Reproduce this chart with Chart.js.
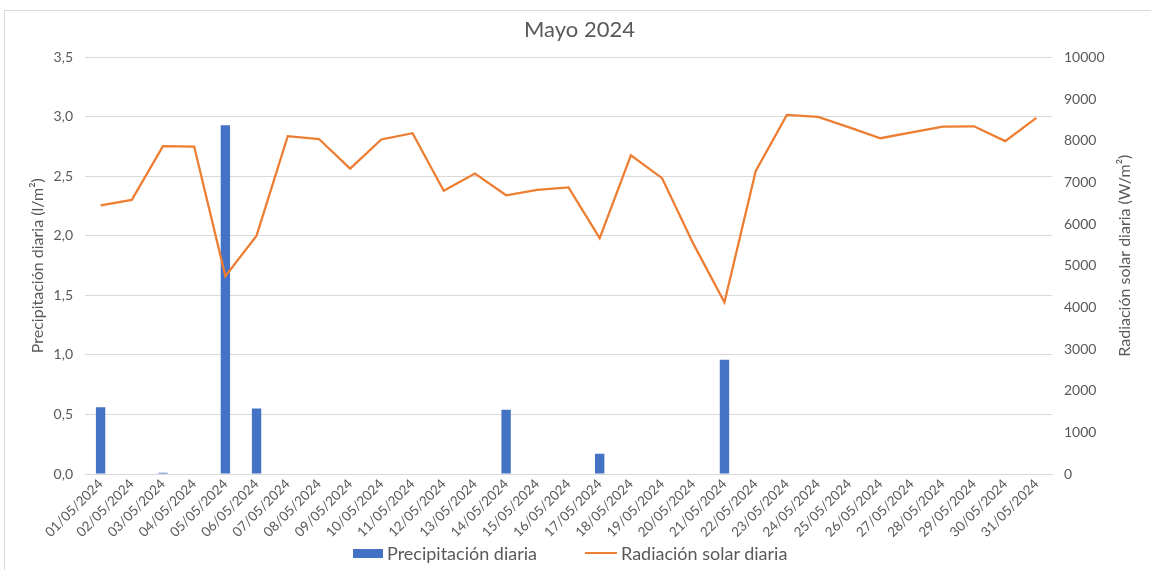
<!DOCTYPE html>
<html>
<head>
<meta charset="utf-8">
<script src="https://cdn.jsdelivr.net/npm/chart.js@4/dist/chart.umd.min.js"></script>
<style>
  html, body { margin: 0; padding: 0; background: #fff; }
  #wrap { position: relative; width: 1151px; height: 570px; overflow: hidden; font-family: Lato, "Open Sans", sans-serif; }
  #marco { position: absolute; left: 4px; top: 10px; width: 1200px; height: 600px; border: 1px solid #d9d9d9; box-sizing: border-box; }
  canvas { position: absolute; left: 0; top: 0; }
  #leyenda { position: absolute; left: 353px; top: 542px; display: flex; align-items: center; color: #595959; font-size: 18px; line-height: 22px; }
  .item { display: flex; align-items: center; }
  .item + .item { margin-left: 48px; }
  .caja { width: 30px; height: 9px; background: #4472c4; margin-right: 4px; }
  .linea { width: 32px; height: 2px; background: #ed7d31; margin-right: 4px; }
</style>
</head>
<body>
<div id="wrap">
  <div id="marco"></div>
  <canvas id="grafica" width="1151" height="570"></canvas>
  <div id="leyenda">
    <div class="item"><span class="caja"></span><span>Precipitación diaria</span></div>
    <div class="item"><span class="linea"></span><span>Radiación solar diaria</span></div>
  </div>
</div>
<script>
// Fechas del mes (eje x)
const fechas = [
  '01/05/2024', '02/05/2024', '03/05/2024', '04/05/2024', '05/05/2024', '06/05/2024',
  '07/05/2024', '08/05/2024', '09/05/2024', '10/05/2024', '11/05/2024', '12/05/2024',
  '13/05/2024', '14/05/2024', '15/05/2024', '16/05/2024', '17/05/2024', '18/05/2024',
  '19/05/2024', '20/05/2024', '21/05/2024', '22/05/2024', '23/05/2024', '24/05/2024',
  '25/05/2024', '26/05/2024', '27/05/2024', '28/05/2024', '29/05/2024', '30/05/2024',
  '31/05/2024'
];

// Precipitación diaria (l/m2)
const precipitacion = [
  0.56, 0, 0.01, 0, 2.93, 0.55, 0, 0, 0, 0, 0, 0, 0, 0.54, 0, 0,
  0.17, 0, 0, 0, 0.96, 0, 0, 0, 0, 0, 0, 0, 0, 0, 0
];

// Radiación solar diaria (W/m2)
const radiacion = [
  6450, 6580, 7870, 7860, 4750, 5720, 8110, 8040, 7330, 8030, 8180, 6800,
  7210, 6690, 6820, 6880, 5660, 7650, 7100, 5530, 4120, 7270, 8620, 8570,
  8320, 8060, 8200, 8340, 8345, 7990, 8550
];

// Marcas de los ejes
const ticksIzq = { min: 0, max: 3.5, paso: 0.5 };
const ticksDer = { min: 0, max: 10000, paso: 1000 };

const gris = '#595959';
const fuente = 'Lato, "Open Sans", sans-serif';
const tituloDer = 'Radiación solar diaria (W/m²)';

// El título del eje derecho se lee de abajo hacia arriba, como el izquierdo
const tituloEjeDer = {
  id: 'tituloEjeDer',
  afterDraw(chart) {
    const { ctx, chartArea } = chart;
    ctx.save();
    ctx.translate(1125, (chartArea.top + chartArea.bottom) / 2 - 10);
    ctx.rotate(-Math.PI / 2);
    ctx.fillStyle = gris;
    ctx.font = '16px ' + fuente;
    ctx.textAlign = 'center';
    ctx.textBaseline = 'middle';
    ctx.fillText(tituloDer, 0, 0);
    ctx.restore();
  }
};

const ctx = document.getElementById('grafica').getContext('2d');
new Chart(ctx, {
  data: {
    labels: fechas,
    datasets: [
      {
        type: 'line',
        label: 'Radiación solar diaria',
        data: radiacion,
        yAxisID: 'yDer',
        borderColor: '#ed7d31',
        backgroundColor: '#ed7d31',
        borderWidth: 2.25,
        pointRadius: 0,
        tension: 0,
        order: 1
      },
      {
        type: 'bar',
        label: 'Precipitación diaria',
        data: precipitacion,
        yAxisID: 'yIzq',
        backgroundColor: '#4472c4',
        borderWidth: 0,
        barPercentage: 0.3,
        categoryPercentage: 1.0,
        order: 2
      }
    ]
  },
  options: {
    responsive: false,
    animation: false,
    layout: { padding: { top: 12, left: 18, right: 10, bottom: 26 } },
    plugins: {
      title: {
        display: true,
        text: 'Mayo 2024',
        color: gris,
        font: { family: fuente, size: 22, weight: 'normal' },
        padding: { top: 5, bottom: 14 }
      },
      legend: { display: false },
      tooltip: { enabled: false }
    },
    scales: {
      x: {
        grid: { display: false, drawTicks: false },
        border: { display: true, color: '#d9d9d9' },
        ticks: {
          color: gris,
          padding: 2,
          font: { family: fuente, size: 13.5 },
          maxRotation: 45,
          minRotation: 45,
          autoSkip: false
        },
        afterFit: s => { s.height = 70; }
      },
      yIzq: {
        position: 'left',
        min: ticksIzq.min,
        max: ticksIzq.max,
        grid: { color: '#d9d9d9', drawTicks: false },
        border: { display: false },
        ticks: {
          stepSize: ticksIzq.paso,
          color: gris,
          padding: 12,
          font: { family: fuente, size: 14 },
          callback: v => v.toFixed(1).replace('.', ',')
        },
        title: {
          display: true,
          text: 'Precipitación diaria (l/m²)',
          color: gris,
          font: { family: fuente, size: 16 },
          padding: { top: 10, bottom: 8 }
        },
        afterFit: s => { s.width = 67; }
      },
      yDer: {
        position: 'right',
        min: ticksDer.min,
        max: ticksDer.max,
        grid: { display: false, drawTicks: false },
        border: { display: false },
        ticks: {
          stepSize: ticksDer.paso,
          color: gris,
          padding: 12,
          font: { family: fuente, size: 14 },
          callback: v => String(v)
        },
        afterFit: s => { s.width = 89; }
      }
    }
  },
  plugins: [tituloEjeDer]
});
</script>
</body>
</html>
